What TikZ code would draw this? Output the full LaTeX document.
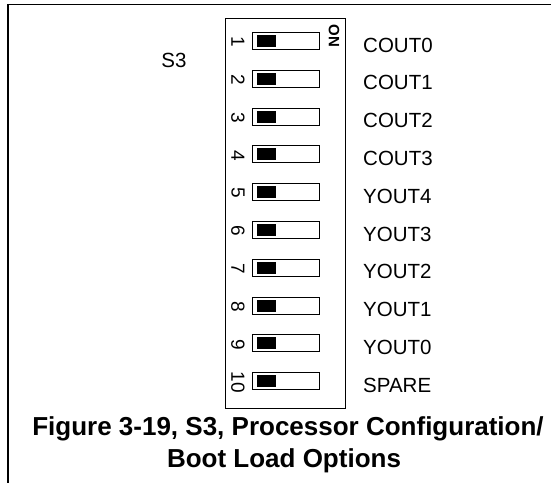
\documentclass[tikz,border=0pt]{standalone}
\usepackage{fontspec}
\setmainfont{Liberation Sans}
\usetikzlibrary{positioning}

\begin{document}
\begin{tikzpicture}[x=1pt, y=-1pt,
  body/.style={draw, line width=1pt, minimum width=120pt, minimum height=390pt, inner sep=0pt},
  slot/.style={draw, line width=1pt, minimum width=67pt, minimum height=17pt, inner sep=0pt},
  knob/.style={fill=black, minimum width=19pt, minimum height=12pt, inner sep=0pt, anchor=west},
  pin/.style={font=\fontsize{19}{19}\selectfont, rotate=-90, inner sep=0pt},
  sig/.style={font=\fontsize{20.5}{20.5}\selectfont, anchor=west, inner sep=0pt},
  caption/.style={font=\bfseries\fontsize{26}{26}\selectfont, inner sep=0pt, anchor=base}
]
\useasboundingbox (0,0) rectangle (551,483);
\draw[line width=1.3pt] (551,4.5) -- (8,4.5) -- (8,483);

\node[body] (sw) at (285,213) {};
\node[font=\bfseries\fontsize{15}{15}\selectfont, rotate=-90, inner sep=0pt] (on) at (334,36) {ON};
\node[font=\fontsize{20.5}{20.5}\selectfont, inner sep=0pt] (name) at (174,60) {S3};

% one row per switch position
\foreach \lab [count=\i] in {COUT0,COUT1,COUT2,COUT3,YOUT4,YOUT3,YOUT2,YOUT1,YOUT0,SPARE} {
  \pgfmathsetmacro\ry{41+37.8*(\i-1)}
  \node[slot] (s\i) at (285.5,\ry) {};
  \node[knob] (k\i) at ([xshift=5pt]s\i.west) {};
  \node[pin] (n\i) at (238,\ry+1) {\i};
  \node[sig] (l\i) at (363,\ry+4) {\lab};
}

\node[caption] (cap1) at (288,435) {Figure 3-19, S3, Processor Configuration/};
\node[caption] (cap2) at (284,467) {Boot Load Options};
\end{tikzpicture}
\end{document}
